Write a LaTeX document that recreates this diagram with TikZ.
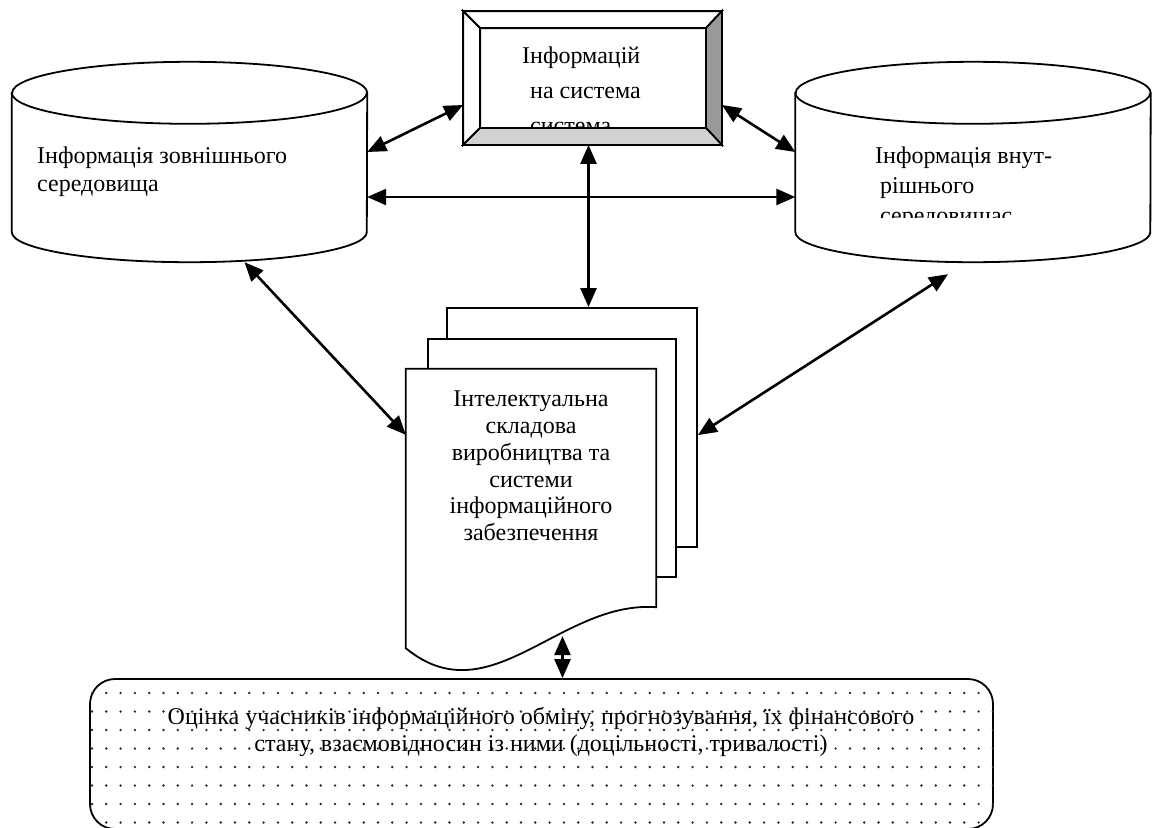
\documentclass[tikz,border=0pt]{standalone}
\usepackage{fontspec}
\setmainfont{Liberation Serif}
\usepackage{tikz}
\usetikzlibrary{arrows.meta,positioning}
\definecolor{bevelDark}{HTML}{999999}
\definecolor{bevelLight}{HTML}{D2D2D2}
\definecolor{dotGrey}{HTML}{2A2A2A}
\tikzset{
  outline/.style={line width=1.8pt,line join=miter},
  drumbox/.style={rectangle,minimum width=355pt,minimum height=200pt,inner sep=0pt},
  bevelbox/.style={rectangle,outline,draw,fill=white,minimum width=257pt,minimum height=132pt,inner sep=0pt},
  sheet/.style={rectangle,outline,draw,fill=white,minimum width=250pt,minimum height=239pt,inner sep=0pt},
  dottedpanel/.style={rectangle,outline,draw,rounded corners=25pt,minimum width=903pt,minimum height=150pt,inner sep=0pt},
  caption/.style={inner sep=0pt,align=left,font=\fontsize{24}{27.6}\selectfont},
  link/.style={{Triangle[length=19pt,width=16pt]}-{Triangle[length=19pt,width=16pt]},line width=2.6pt}
}
% cylinder drawn round a drumbox node
\newcommand{\drumshape}[1]{%
  \draw[outline,fill=white] ([yshift=-31pt]#1.north west) -- ([yshift=30pt]#1.south west)
    arc[start angle=180,end angle=360,x radius=177.5pt,y radius=30pt]
    -- ([yshift=-31pt]#1.north east)
    arc[start angle=0,end angle=180,x radius=177.5pt,y radius=31pt] -- cycle;
  \draw[outline] ([yshift=-31pt]#1.north west)
    arc[start angle=180,end angle=360,x radius=177.5pt,y radius=31pt];}
% bevel edges of the top box
\newcommand{\bevelframe}[1]{%
  \coordinate (#1-inw) at ([xshift=17pt,yshift=-17pt]#1.north west);
  \coordinate (#1-ine) at ([xshift=-16pt,yshift=-17pt]#1.north east);
  \coordinate (#1-ise) at ([xshift=-16pt,yshift=17pt]#1.south east);
  \coordinate (#1-isw) at ([xshift=17pt,yshift=17pt]#1.south west);
  \draw[outline,fill=white] (#1.north west) -- (#1.north east) -- (#1-ine) -- (#1-inw) -- cycle;
  \draw[outline,fill=white] (#1.north west) -- (#1-inw) -- (#1-isw) -- (#1.south west) -- cycle;
  \draw[outline,fill=bevelDark] (#1.north east) -- (#1.south east) -- (#1-ise) -- (#1-ine) -- cycle;
  \draw[outline,fill=bevelLight] (#1.south west) -- (#1.south east) -- (#1-ise) -- (#1-isw) -- cycle;}
% front page with a wavy lower edge
\newcommand{\wavysheet}[1]{%
  \draw[outline,fill=white] (#1.south west) -- (#1.north west) -- (#1.north east)
    -- ([yshift=41pt]#1.south east) .. controls +(-96,-7) and +(84,69) .. (#1.south west) -- cycle;}

\begin{document}
\begin{tikzpicture}[x=1pt,y=-1pt]
  \useasboundingbox (0,0) rectangle (1155,827);
  % stores
  \node[drumbox] (lcyl) at (189.5,162) {};
  \node[drumbox] (rcyl) at (973,162) {};
  \drumshape{lcyl}
  \drumshape{rcyl}
  \node[caption,anchor=north west] (ltext) at (37,147) {Інформація зовнішнього\\середовища};
  \begin{scope}
    \clip (800,120) rectangle (1140,217);
    \node[caption,anchor=north west,font=\fontsize{24}{30}\selectfont] (rtext) at (875,147)
      {Інформація внут-\\\hspace*{5pt}рішнього\\\hspace*{5pt}середовищас};
  \end{scope}
  % central system
  \node[bevelbox] (top) at (592.5,78) {};
  \node[caption,anchor=north west,font=\fontsize{24}{35}\selectfont] (ttext) at (522,47)
    {Інформацій\\\hspace*{8pt}на система\\\hspace*{8pt}система};
  \bevelframe{top}
  % stack of pages
  \node[sheet] (back) at (572,427.5) {};
  \node[sheet,minimum width=248pt,minimum height=238pt] (mid) at (552,458) {};
  \node[rectangle,minimum width=250pt,minimum height=279pt,inner sep=0pt] (front) at (531,508.5) {};
  \wavysheet{front}
  \node[caption,align=center,anchor=north,font=\fontsize{24}{26.7}\selectfont] (ftext) at (531,391)
    {Інтелектуальна\\складова\\виробництва та\\системи\\інформаційного\\забезпечення};
  % evaluation panel
  \node[dottedpanel] (bot) at (541.5,754) {};
  \begin{scope}
    \clip[rounded corners=25pt] (bot.north west) rectangle (bot.south east);
    \foreach \r in {0,...,7}
      \foreach \c in {0,...,63}
        \fill[dotGrey] (92+14.3*\c,693+18.5*\r) circle[radius=1.35pt];
  \end{scope}
  \node[caption,align=center,anchor=north,font=\fontsize{24}{27.5}\selectfont] (btext) at (541,707)
    {Оцінка учасників інформаційного обміну, прогнозування, їх фінансового\\стану, взаємовідносин із ними (доцільності, тривалості)};
  % links
  \draw[link] ([yshift=10pt]lcyl.east) -- ([yshift=-27pt]top.west);
  \draw[link] ([yshift=-27pt]top.east) -- ([yshift=10pt]rcyl.west);
  \draw[link] ([yshift=-35pt]lcyl.east) -- ([yshift=-35pt]rcyl.west);
  \draw[link] ([xshift=-4pt]top.south) -- ([xshift=-4pt]top.south |- back.north);
  \draw[link] ([xshift=55pt]lcyl.south) -- ([yshift=-66pt]front.north west);
  \draw[link] ([xshift=-25pt,yshift=-12pt]rcyl.south) -- ([yshift=-128pt]back.north east);
  \draw[link] ([xshift=21pt,yshift=42pt]bot.north) -- ([xshift=21pt]bot.north);
\end{tikzpicture}
\end{document}
